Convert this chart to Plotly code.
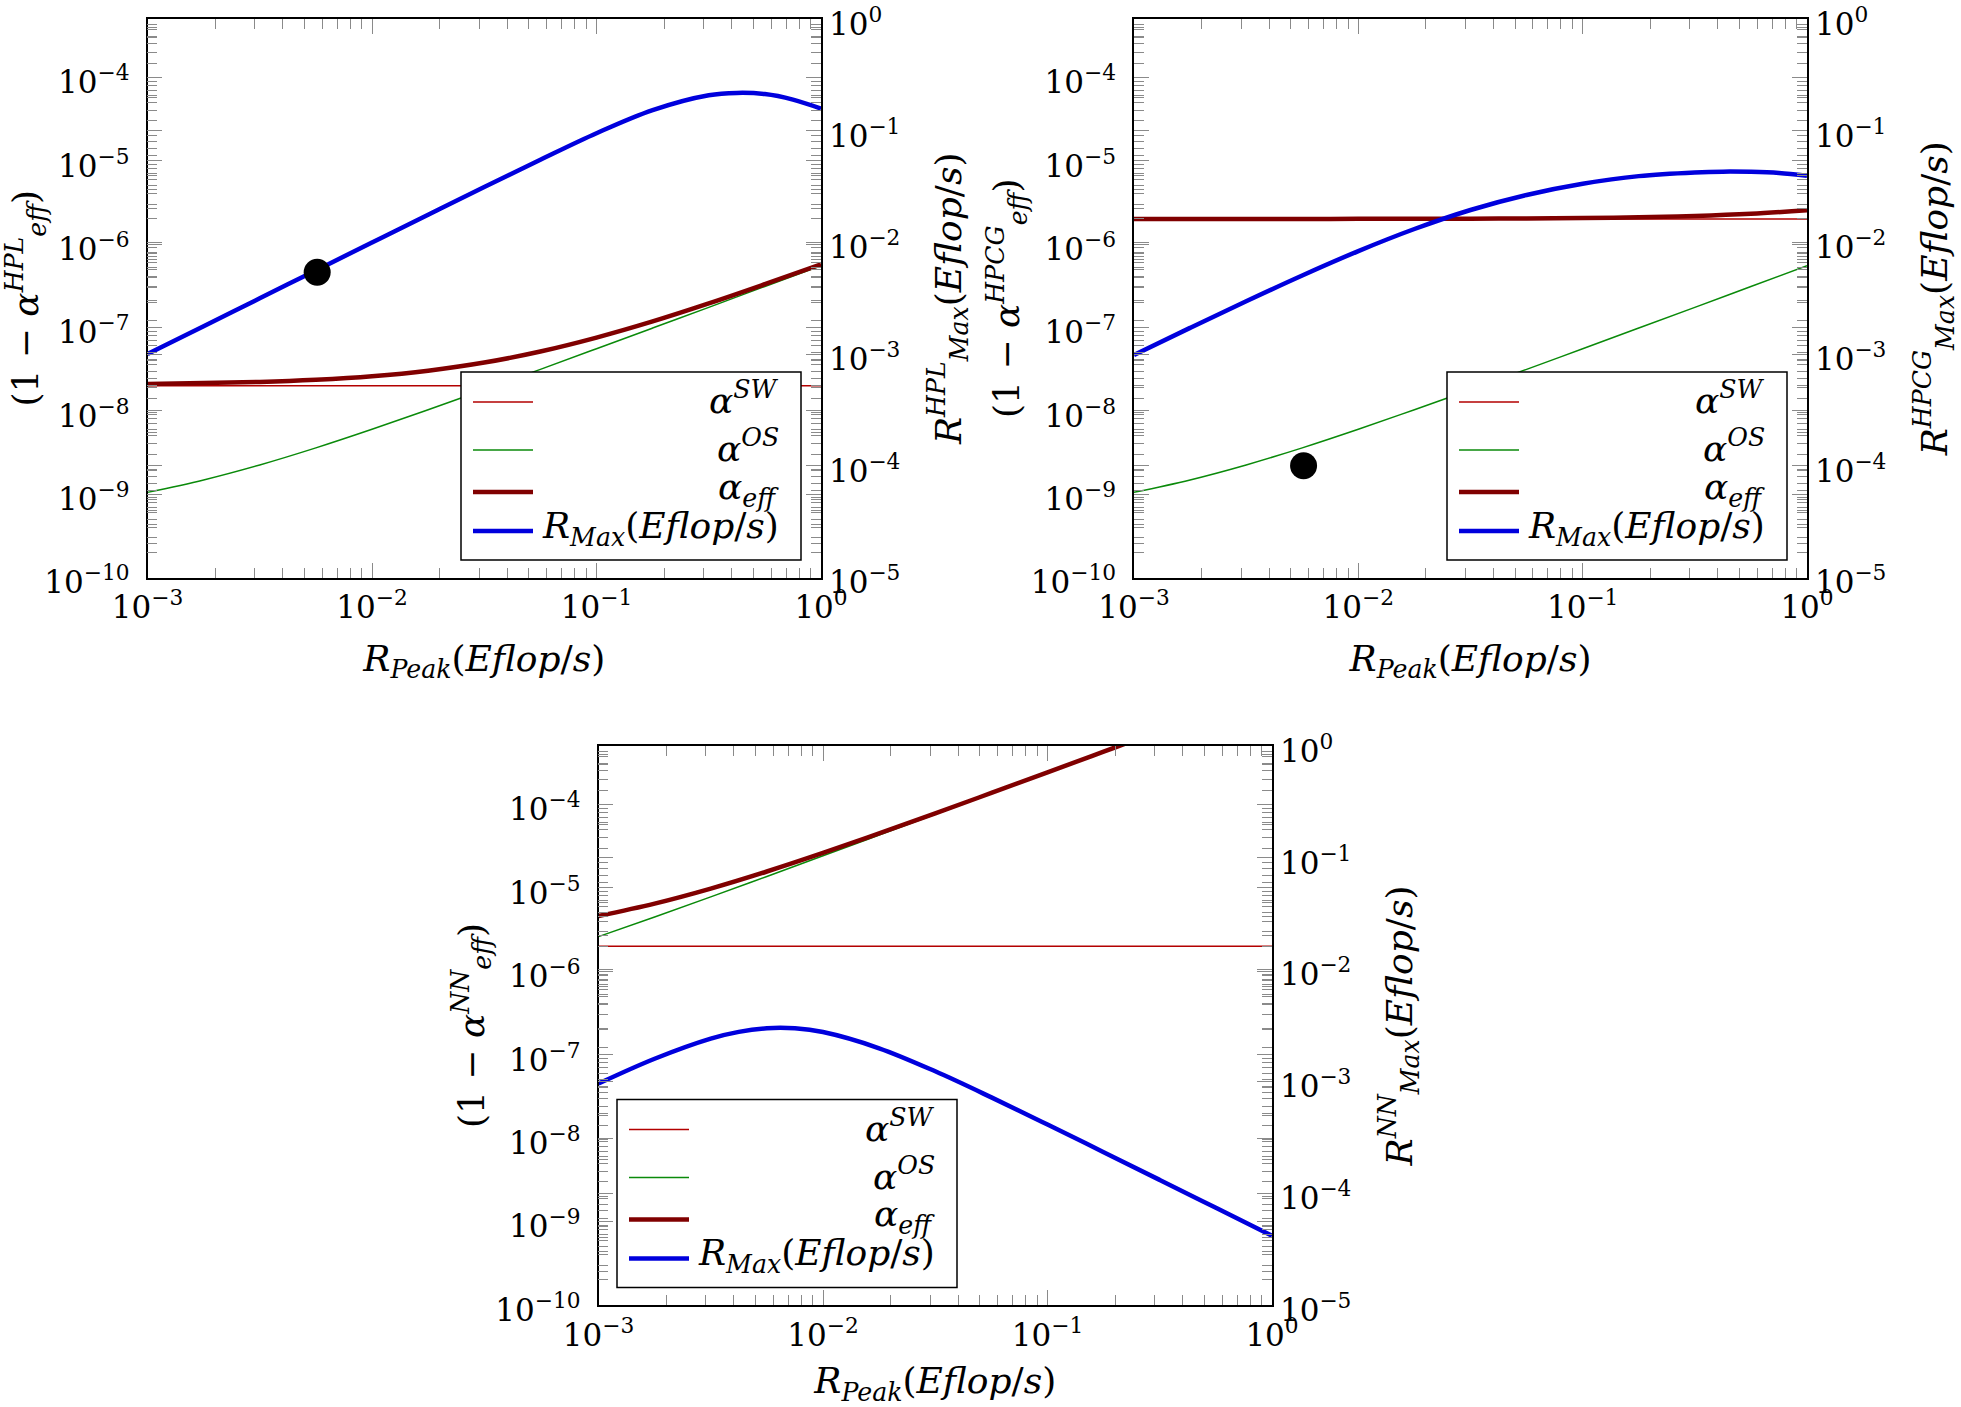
import plotly.graph_objects as go

W, H = 1961, 1407

# ---------------- data ----------------
rpeak = [1e-3, 1.7783e-3, 3.1623e-3, 5.6234e-3, 1e-2, 1.7783e-2, 3.1623e-2,
         5.6234e-2, 0.1, 0.17783, 0.31623, 0.56234, 1.0]
rpeak_ends = [1e-3, 1.0]

# HPL panel
hpl_sw = [2.0e-8, 2.0e-8]
hpl_os = [1.05e-9, 1.48e-9, 2.24e-9, 3.59e-9, 6.0e-9, 1.03e-8, 1.79e-8,
          3.14e-8, 5.55e-8, 9.83e-8, 1.74e-7, 3.10e-7, 5.5e-7]
hpl_eff = [2.10e-8, 2.15e-8, 2.22e-8, 2.36e-8, 2.60e-8, 3.03e-8, 3.79e-8,
           5.14e-8, 7.55e-8, 1.18e-7, 1.94e-7, 3.30e-7, 5.70e-7]
hpl_rpeak_r = [1e-3, 1.7783e-3, 3.1623e-3, 5.6234e-3, 1e-2, 1.7783e-2, 3.1623e-2,
               5.6234e-2, 0.1, 0.17783, 0.31623, 0.4217, 0.56234, 0.74989, 1.0]
hpl_rmax = [1.0e-3, 1.778e-3, 3.160e-3, 5.616e-3, 9.98e-3, 1.772e-2, 3.135e-2,
            5.50e-2, 9.50e-2, 0.153, 0.208, 0.218, 0.213, 0.190, 0.158]
hpl_dot_x = [5.7e-3]
hpl_dot_y = [5.4e-3]

# HPCG panel
hpcg_sw = [2.0e-6, 2.0e-6]
hpcg_os = [1.05e-9, 1.48e-9, 2.24e-9, 3.59e-9, 6.0e-9, 1.03e-8, 1.79e-8,
           3.14e-8, 5.55e-8, 9.83e-8, 1.74e-7, 3.10e-7, 5.5e-7]
hpcg_eff = [2.001e-6, 2.0015e-6, 2.0022e-6, 2.0036e-6, 2.006e-6, 2.0103e-6,
            2.0179e-6, 2.0314e-6, 2.0555e-6, 2.098e-6, 2.174e-6, 2.31e-6, 2.55e-6]
hpcg_rpeak_r = [1e-3, 1.7783e-3, 3.1623e-3, 5.6234e-3, 1e-2, 1.7783e-2, 3.1623e-2,
                5.6234e-2, 0.1, 0.17783, 0.31623, 0.4217, 0.56234, 0.74989, 1.0]
hpcg_rmax = [9.804e-4, 1.717e-3, 2.974e-3, 5.06e-3, 8.36e-3, 1.318e-2, 1.950e-2,
             2.66e-2, 3.35e-2, 3.92e-2, 4.23e-2, 4.30e-2, 4.28e-2, 4.18e-2, 3.95e-2]
hpcg_dot_x = [5.7e-3]
hpcg_dot_y = [1.0e-4]

# NN panel
nn_sw = [2.0e-6, 2.0e-6]
nn_os = [2.6e-6, 4.468e-6, 7.79e-6, 1.37e-5, 2.42e-5, 4.29e-5, 7.61e-5,
         1.352e-4, 2.402e-4, 4.27e-4, 7.59e-4, 1.35e-3, 2.4e-3]
nn_eff = [4.6e-6, 6.468e-6, 9.79e-6, 1.57e-5, 2.62e-5, 4.49e-5, 7.81e-5,
          1.372e-4, 2.422e-4, 4.29e-4, 7.61e-4, 1.352e-3, 2.402e-3]
nn_rpeak_r = [1e-3, 1.7783e-3, 3.1623e-3, 4.217e-3, 5.6234e-3, 7.4989e-3, 1e-2,
              1.7783e-2, 3.1623e-2, 5.6234e-2, 0.1, 0.17783, 0.31623, 0.56234, 1.0]
nn_rmax = [9.56e-4, 1.595e-3, 2.415e-3, 2.775e-3, 2.987e-3, 2.982e-3, 2.762e-3,
           1.979e-3, 1.231e-3, 7.195e-4, 4.112e-4, 2.328e-4, 1.314e-4, 7.395e-5, 4.163e-5]

x_exps = [-3, -2, -1, 0]
yl_exps = [-10, -9, -8, -7, -6, -5, -4]
yr_exps = [-5, -4, -3, -2, -1, 0]

legend_labels = ["<i>α</i><sup><i>SW</i></sup>",
                 "<i>α</i><sup><i>OS</i></sup>",
                 "<i>α</i><sub><i>eff</i></sub>",
                 "<i>R</i><sub><i>Max</i></sub>(<i>Eflop</i>/<i>s</i>)"]

# ---------------- style ----------------
FONT = "DejaVu Serif"
TICK_FS, TITLE_FS, LEG_FS = 31, 36, 36
C_SW, C_OS, C_EFF, C_R = "#b30000", "#0a8a0a", "#800000", "#0000dd"
W_SW, W_OS, W_EFF, W_R = 1.5, 1.5, 4.5, 4.5
TICKC = "#8a8a8a"

# panel frames in pixels (x0, x1, y0, y1)
frames = [(147.5, 821, 19, 577.5), (1134, 1807, 19, 577.5), (598.5, 1272, 746, 1305)]
legend_corner = ["br", "br", "bl"]
names = ["HPL", "HPCG", "NN"]


def fx(p):
    return p / W


def fy(p):
    return 1 - p / H


def lab(e):
    return "10<sup>" + ("−" if e < 0 else "") + str(abs(e)) + "</sup>"


def minor_vals(lo, hi):
    return [k * 10.0 ** e for e in range(lo, hi + 1) for k in range(2, 10)]


fig = go.Figure()

panels = [
    (hpl_sw, hpl_os, hpl_eff, hpl_rpeak_r, hpl_rmax, hpl_dot_x, hpl_dot_y),
    (hpcg_sw, hpcg_os, hpcg_eff, hpcg_rpeak_r, hpcg_rmax, hpcg_dot_x, hpcg_dot_y),
    (nn_sw, nn_os, nn_eff, nn_rpeak_r, nn_rmax, None, None),
]

layout = dict(template="none", width=W, height=H,
              margin=dict(l=0, r=0, t=0, b=0, autoexpand=False),
              paper_bgcolor="white", plot_bgcolor="white", showlegend=False,
              font=dict(family=FONT, size=TICK_FS, color="black"))
shapes, annotations = [], []

for i, (sw, os_, eff, xr, rmax, dx, dy) in enumerate(panels):
    xa = "x" if i == 0 else f"x{i + 1}"
    yl = f"y{2 * i + 1}" if i > 0 else "y"
    yr = f"y{2 * i + 2}"
    fig.add_trace(go.Scatter(x=rpeak_ends, y=sw, mode="lines", xaxis=xa, yaxis=yl,
                             line=dict(color=C_SW, width=W_SW), name="α SW"))
    fig.add_trace(go.Scatter(x=rpeak, y=os_, mode="lines", xaxis=xa, yaxis=yl,
                             line=dict(color=C_OS, width=W_OS, shape="spline"), name="α OS"))
    fig.add_trace(go.Scatter(x=rpeak, y=eff, mode="lines", xaxis=xa, yaxis=yl,
                             line=dict(color=C_EFF, width=W_EFF, shape="spline"), name="α eff"))
    fig.add_trace(go.Scatter(x=xr, y=rmax, mode="lines", xaxis=xa, yaxis=yr,
                             line=dict(color=C_R, width=W_R, shape="spline"), name="R Max"))
    if dx is not None:
        fig.add_trace(go.Scatter(x=dx, y=dy, mode="markers", xaxis=xa, yaxis=yr,
                                 marker=dict(color="black", size=27), name="measured"))

    x0, x1, y0, y1 = frames[i]
    common = dict(type="log", showgrid=False, zeroline=False, showline=True, automargin=False,
                  linecolor="black", linewidth=1.5, mirror="ticks", ticklabeloverflow="allow",
                  ticks="inside", tickcolor=TICKC, tickwidth=1.3, ticklen=15,
                  tickfont=dict(family=FONT, size=TICK_FS, color="black"))
    minor_common = dict(ticks="inside", ticklen=10, tickcolor=TICKC, tickwidth=1.3,
                        tickmode="array", showgrid=False)
    xkey = "xaxis" if i == 0 else f"xaxis{i + 1}"
    ylkey = "yaxis" if i == 0 else f"yaxis{2 * i + 1}"
    yrkey = f"yaxis{2 * i + 2}"
    layout[xkey] = dict(common, domain=[fx(x0), fx(x1)], anchor=yl, range=[-3, 0],
                        tickmode="array", tickvals=[10.0 ** e for e in x_exps],
                        ticktext=[lab(e) for e in x_exps], ticklabelstandoff=2,
                        minor=dict(minor_common, tickvals=minor_vals(-3, -1)),
                        title=dict(text="<i>R</i><sub><i>Peak</i></sub>(<i>Eflop</i>/<i>s</i>)",
                                   font=dict(family=FONT, size=TITLE_FS), standoff=21))
    layout[ylkey] = dict(common, domain=[fy(y1), fy(y0)], anchor=xa, range=[-10, -3.3],
                         tickmode="array", tickvals=[10.0 ** e for e in yl_exps],
                         ticktext=[lab(e) for e in yl_exps], ticklabelstandoff=10,
                         ticklabelshift=5,
                         minor=dict(minor_common, tickvals=minor_vals(-10, -4)),
                         title=dict(text=f"(1 − <i>α</i><sup><i>{names[i]}</i></sup><sub><i>eff</i></sub>)",
                                    font=dict(family=FONT, size=TITLE_FS), standoff=0))
    layout[yrkey] = dict(common, domain=[fy(y1), fy(y0)], anchor=xa, overlaying=yl,
                         side="right", range=[-5, 0],
                         tickmode="array", tickvals=[10.0 ** e for e in yr_exps],
                         ticktext=[lab(e) for e in yr_exps], ticklabelstandoff=0,
                         ticklabelshift=5,
                         minor=dict(minor_common, tickvals=minor_vals(-5, -1)),
                         title=dict(text=f"<i>R</i><sup><i>{names[i]}</i></sup><sub><i>Max</i></sub>(<i>Eflop</i>/<i>s</i>)",
                                    font=dict(family=FONT, size=TITLE_FS), standoff=36))

    # legend box
    lw, lh = 340, 188
    if legend_corner[i] == "br":
        lx0, ly1 = x1 - 20 - lw, y1 - 17.5
    else:
        lx0, ly1 = x0 + 18.5, y1 - 17.5
    ly0 = ly1 - lh
    shapes.append(dict(type="rect", xref="paper", yref="paper",
                       x0=fx(lx0), x1=fx(lx0 + lw), y0=fy(ly1), y1=fy(ly0),
                       fillcolor="white", line=dict(color="black", width=1.5), layer="above"))
    rows = [30, 78, 120, 159]
    styles = [(C_SW, W_SW), (C_OS, W_OS), (C_EFF, W_EFF), (C_R, W_R)]
    for r, (c, w), t in zip(rows, styles, legend_labels):
        yy = ly0 + r
        shapes.append(dict(type="line", xref="paper", yref="paper",
                           x0=fx(lx0 + 12), x1=fx(lx0 + 72), y0=fy(yy), y1=fy(yy),
                           line=dict(color=c, width=w), layer="above"))
        off = -4 if "sup" in t else -3
        annotations.append(dict(xref="paper", yref="paper", x=fx(lx0 + lw - 20), y=fy(yy + off),
                                xanchor="right", yanchor="middle", showarrow=False, text=t,
                                font=dict(family=FONT, size=LEG_FS, color="black")))

layout["shapes"] = shapes
layout["annotations"] = annotations
fig.update_layout(**layout)
fig.write_html("out.html", config={"displayModeBar": False},
               post_script="document.body.style.margin='0px';")
